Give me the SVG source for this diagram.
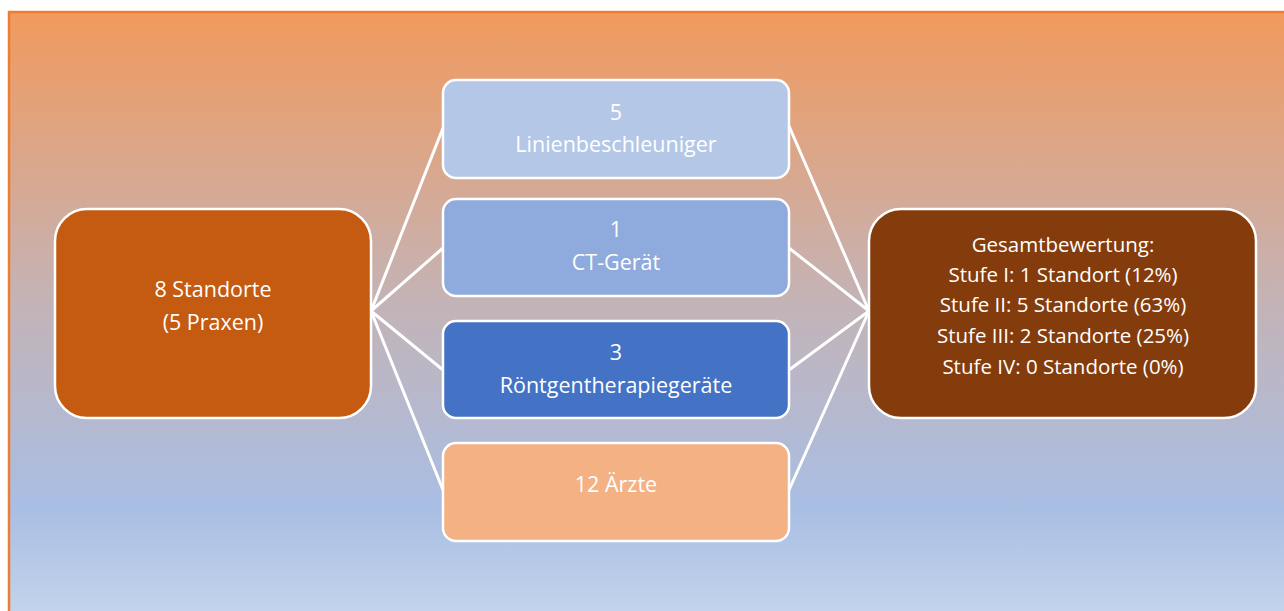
<svg xmlns="http://www.w3.org/2000/svg" width="1284" height="611" viewBox="0 0 1284 611">
<defs>
<linearGradient id="bg" gradientUnits="userSpaceOnUse" x1="0" y1="12" x2="0" y2="611">
<stop offset="0" stop-color="#F19A5D"/>
<stop offset="0.48" stop-color="#C4B3B6"/>
<stop offset="0.83" stop-color="#A9BEE4"/>
<stop offset="1" stop-color="#C3D3EC"/>
</linearGradient>
<style>
.box{stroke:#FFFFFF;stroke-width:2.5}
.t{font-family:"Open Sans","Noto Sans",sans-serif;fill:#FFFFFF;text-anchor:middle;font-size:21.5px}
.r{font-size:20.5px}
.c{stroke:#FFFFFF;stroke-width:3;fill:none}
</style>
</defs>
<rect x="0" y="0" width="1284" height="611" fill="#FFFFFF"/>
<rect x="9" y="12" width="1290" height="620" fill="url(#bg)" stroke="#ED7D31" stroke-width="2.5"/>
<g id="connectors">
<path class="c" d="M371 311 L443 128 M371 311 L443 248 M371 311 L443 370 M371 311 L443 490"/>
<path class="c" d="M789 126 L869 311 M789 248 L869 311 M789 370 L869 311 M789 490 L869 311"/>
</g>
<g id="standorte">
<rect class="box" x="55" y="209" width="316" height="209" rx="32" fill="#C55A11"/>
<text class="t" x="213" y="297">8 Standorte</text>
<text class="t" x="213" y="330">(5 Praxen)</text>
</g>
<g id="linac">
<rect class="box" x="443" y="80" width="346" height="98" rx="13" fill="#B4C7E7"/>
<text class="t" x="616" y="120">5</text>
<text class="t" x="616" y="152">Linienbeschleuniger</text>
</g>
<g id="ct">
<rect class="box" x="443" y="199" width="346" height="97" rx="13" fill="#8FAADC"/>
<text class="t" x="616" y="237">1</text>
<text class="t" x="616" y="270">CT-Gerät</text>
</g>
<g id="roentgen">
<rect class="box" x="443" y="321" width="346" height="97" rx="13" fill="#4472C4"/>
<text class="t" x="616" y="360">3</text>
<text class="t" x="616" y="393">Röntgentherapiegeräte</text>
</g>
<g id="aerzte">
<rect class="box" x="443" y="443" width="346" height="98" rx="13" fill="#F4B183"/>
<text class="t" x="616" y="492">12 Ärzte</text>
</g>
<g id="gesamt">
<rect class="box" x="869" y="209" width="387" height="209" rx="32" fill="#843C0C"/>
<text class="t r" x="1063" y="252">Gesamtbewertung:</text>
<text class="t r" x="1063" y="282">Stufe I: 1 Standort (12%)</text>
<text class="t r" x="1063" y="312">Stufe II: 5 Standorte (63%)</text>
<text class="t r" x="1063" y="343">Stufe III: 2 Standorte (25%)</text>
<text class="t r" x="1063" y="374">Stufe IV: 0 Standorte (0%)</text>
</g>
</svg>
